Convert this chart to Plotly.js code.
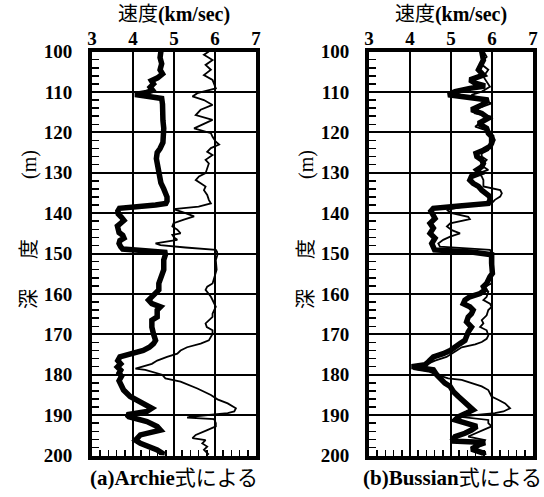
<!DOCTYPE html>
<html><head><meta charset="utf-8">
<script src="https://cdn.plot.ly/plotly-3.0.1.min.js"></script>
<style>html,body{margin:0;padding:0;background:#fff}#chart{width:544px;height:497px}</style>
</head><body><div id="chart"></div>
<script>
// ---- data (depth in m, velocity in km/sec) ----
const archieDepth = [100,101.5,103,104.5,105.5,106.5,107.2,108,108.8,109.6,110.2,110.6,111,111.6,113,115,117,119,121,122.5,
 124,125,126.5,128,129.5,131,132.5,134,135,136,137,137.6,138,138.4,138.8,139.5,140.2,141,141.8,142.5,
 143.2,144,144.8,145.5,146.2,146.8,147.5,148.3,148.9,149.3,149.7,150.3,151.6,154,155.5,157.4,159,159.9,160.7,161.5,
 162.4,163.2,164,165.7,166.5,168.2,169.9,171.5,172.3,173.2,174,174.8,175.6,176.5,177.3,178.1,178.9,179.6,180.4,181.5,
 182.9,183.8,185.4,187.1,188.3,189.1,189.9,190.4,191.6,192.8,193.7,194.9,196.2,197,197.8,198.6,199.4,200];
const archieVel = [4.68,4.66,4.70,4.66,4.72,4.60,4.45,4.50,4.42,4.48,4.30,4.05,4.30,4.70,4.72,4.71,4.73,4.75,4.75,4.73,
 4.66,4.59,4.57,4.60,4.64,4.67,4.68,4.75,4.80,4.83,4.83,4.80,4.55,4.0,3.67,3.63,3.64,3.72,3.78,3.70,
 3.62,3.64,3.66,3.75,3.78,3.68,3.66,3.70,3.75,4.3,4.78,4.79,4.75,4.75,4.71,4.63,4.63,4.55,4.45,4.38,
 4.46,4.67,4.59,4.59,4.46,4.46,4.50,4.55,4.50,4.40,4.25,3.95,3.68,3.63,3.70,3.62,3.70,3.66,3.72,3.66,
 3.72,3.77,3.93,4.22,4.46,4.34,3.85,3.90,4.34,4.59,4.67,4.18,4.06,4.18,4.42,4.59,4.71,4.70];

const measuredADepth = [100,100.8,102.1,103.3,104.5,105.8,107,108.3,109.1,110.3,111.1,112,113.2,114.4,115.7,116.9,118.2,119,120.2,121.1,
 122.3,123,123.9,124.8,125.6,126.8,127.7,128.9,130.1,130.9,131.8,132.6,133.4,134.3,135.5,136.7,137.6,138.4,139,140,
 140.8,141.6,142.5,143.3,144.1,145,145.4,146,146.6,147.5,147.9,148.5,149.1,
 149.6,150.3,151.6,154,157.4,158.2,159,159.9,160.7,161.5,162.4,163.2,164,164.9,165.7,166.5,167.3,168.2,169,169.9,
 171.5,172.3,173.2,174,174.8,175.6,176.5,177.3,178.1,178.5,178.8,180,180.9,181.7,183.4,185,186.1,187.1,188.3,189.1,
 189.5,189.8,190.4,190.6,191,192,192.8,193.7,194.9,195.7,196.2,197,197.8,198.6,199.8];
const measuredAVel = [5.85,5.73,5.94,5.77,5.90,5.73,5.94,5.98,6.02,5.57,5.45,5.73,5.94,5.65,5.53,5.94,5.65,5.49,5.90,5.94,
 6.02,6.10,5.90,5.81,5.94,5.77,5.85,5.81,5.77,5.61,5.53,5.65,5.77,5.73,5.81,5.85,5.90,5.6,4.99,5.28,
 5.49,5.24,4.99,4.96,5.08,5.16,4.96,5.0,5.08,4.55,4.67,5.28,6.02,
 6.05,6.06,6.02,6.04,5.94,5.81,5.77,5.85,5.90,5.94,5.98,6.02,5.98,5.94,5.94,5.85,5.77,5.80,5.94,5.94,
 5.85,5.65,5.32,5.16,5.08,4.83,4.59,4.46,4.22,4.06,4.30,4.71,4.79,5.16,5.57,5.90,6.06,6.31,6.51,6.47,
 6.31,5.98,5.40,5.32,5.98,6.02,6.02,5.81,5.53,5.45,5.77,5.69,5.81,5.73,5.85];

const bussianDepth = [100,102.1,103.7,104.5,105.8,107,107.8,108.5,109.1,109.9,110.7,111.3,112,113.2,114.4,115.3,116.5,117.8,119,120.2,
 121,122.7,123.5,124.4,125.2,126,126.8,127.7,128.5,129.3,130.1,130.9,131.8,132.6,133.4,134.3,135.1,135.9,136.7,137.6,
 138.2,138.8,139.5,140.2,141.3,142.5,143.7,145,146.2,147.5,148.3,149.1,149.6,150.3,152.4,154.9,155.7,157.4,158.2,159,
 159.9,160.7,161.5,162.4,163.2,164,164.9,165.7,166.9,168.2,169.4,170.7,171.5,172.3,173.2,174,174.8,175.6,176.8,177.5,
 178,178.5,178.8,180,181,182.1,182.9,184.2,185.4,186.6,187.9,188.7,189.5,190.4,191.2,192,192.8,193.7,194.5,195.3,
 196.4,196.8,197.4,198.4,199.4,200];
const bussianVel = [5.75,5.79,5.71,5.67,5.79,5.46,5.59,5.83,5.46,5.10,4.93,5.34,5.91,5.75,5.50,5.75,5.91,5.67,5.87,5.91,
 5.99,5.99,5.95,5.79,5.61,5.63,5.75,5.79,5.75,5.63,5.71,5.50,5.46,5.54,5.67,5.75,5.87,5.95,5.95,5.91,
 5.2,4.57,4.51,4.55,4.61,4.49,4.57,4.49,4.61,4.53,4.57,4.60,5.5,5.99,5.99,6.01,5.95,5.87,5.79,5.83,
 5.71,5.46,5.34,5.30,5.46,5.54,5.50,5.42,5.38,5.50,5.42,5.38,5.34,5.22,5.10,4.98,4.81,4.57,4.45,4.37,
 4.04,4.30,4.57,4.65,4.73,4.85,4.98,5.06,5.18,5.30,5.46,5.54,5.38,5.18,5.10,5.34,5.63,5.50,5.34,5.10,
 5.02,5.83,5.67,5.50,5.79,5.80];

const measuredBDepth = [100,101.3,102.9,104.5,106.2,107.4,108.7,109.9,110.7,112,112.8,114,115.3,116.1,117.3,118.6,119.8,121,121.9,122.7,
 123.5,124.4,125.2,126,126.8,127.7,128.5,129.3,130.1,130.9,131.8,132.6,133.4,134.3,135.1,135.9,136.7,137.6,138.4,139.2,
 140,140.9,141.5,142.5,143.3,144.2,145,145.8,146.6,147.5,148.3,149.1,150.3,152.4,155.7,157.4,157.8,158.6,159.4,160.7,
 161.5,162.4,163.2,164,165.3,166.5,167.3,168.2,169,170.3,171.1,171.9,172.5,173.2,174,174.8,175.6,176.5,177.3,178.1,
 178.6,179.2,180,180.9,181.3,182.1,182.9,183.8,185.4,186.2,187.1,188.3,189.1,189.5,190.4,191.2,192,192.8,194.1,195.3,
 196.2,197.4,198.2,199.4,200];
const measuredBVel = [5.80,5.87,5.71,5.91,5.79,5.87,5.95,5.75,5.50,5.75,5.99,5.67,5.59,5.99,5.75,5.59,5.95,6.03,6.07,6.03,
 5.91,5.91,5.75,5.75,5.87,5.79,5.79,5.91,5.67,5.75,5.79,5.79,5.79,6.20,6.24,6.20,6.07,5.99,5.30,4.90,
 5.02,5.42,5.46,4.98,4.90,5.02,5.22,4.98,4.81,4.69,4.73,5.95,6.03,6.03,6.01,5.99,5.91,5.79,5.91,5.87,
 5.79,5.95,5.99,5.91,5.87,5.75,5.79,5.71,5.87,5.91,5.87,5.75,5.59,5.26,5.14,5.02,4.89,4.61,4.45,4.25,
 4.08,4.45,4.65,4.93,5.26,5.50,5.75,5.91,5.99,6.15,6.32,6.44,6.28,6.07,5.18,5.91,5.91,5.99,5.67,5.42,
 5.83,5.75,5.59,5.75,5.78];

const velocityTicks = [3,4,5,6,7];
const depthTicks = [100,110,120,130,140,150,160,170,180,190,200];
const xTitleText = '速度<b>(km/sec)</b>';
const yTitleText = '深\u3000  度\u3000\u3000\u3000(m)';
const captions = ['<b>(a)Archie</b>式による', '<b>(b)Bussian</b>式による'];

// ---- layout helpers ----
const FONT = '"Liberation Serif", "Noto Sans CJK JP", serif';
const W = 544, H = 497;
const px = v => v / W, py = v => 1 - v / H;
const yDom = [py(455.5), py(51.6)];

function bottomX(dom) {
  return {domain: dom, range: [3, 7], tick0: 3, dtick: 1, showticklabels: false,
    ticks: 'inside', ticklen: 7, tickwidth: 1.5, tickcolor: '#000',
    minor: {tick0: 3, dtick: 0.2, ticks: 'inside', ticklen: 6, tickwidth: 1.5, tickcolor: '#000', showgrid: false},
    showgrid: true, gridcolor: '#000', gridwidth: 2, zeroline: false,
    showline: true, linecolor: '#000', linewidth: 4, mirror: true, fixedrange: true};
}
function topX(over, yref) {
  return {overlaying: over, anchor: yref, side: 'top', range: [3, 7], tickvals: velocityTicks,
    ticks: '', showgrid: false, showline: false, zeroline: false, ticklabelstandoff: 2,
    tickfont: {family: FONT, size: 19, color: '#000', weight: 'bold'},
    title: {text: xTitleText, font: {family: FONT, size: 20, color: '#000'}, standoff: 0}};
}
function depthY(xref) {
  return {domain: yDom, anchor: xref, range: [200, 100], tick0: 100, dtick: 10,
    ticks: 'inside', ticklen: 7, tickwidth: 1.5, tickcolor: '#000', ticklabelstandoff: 12,
    minor: {tick0: 100, dtick: 2, ticks: 'inside', ticklen: 7, tickwidth: 1.5, tickcolor: '#000', showgrid: false},
    showgrid: true, gridcolor: '#000', gridwidth: 2, zeroline: false,
    showline: true, linecolor: '#000', linewidth: 4, mirror: true,
    tickfont: {family: FONT, size: 19, color: '#000', weight: 'bold'}, fixedrange: true};
}

const thin = {color: '#000', width: 1.8};
const thick = {color: '#000', width: 5.5};
const traces = [
  {x: measuredAVel, y: measuredADepth, xaxis: 'x', yaxis: 'y', mode: 'lines', line: thin, name: '実測'},
  {x: archieVel, y: archieDepth, xaxis: 'x', yaxis: 'y', mode: 'lines', line: thick, name: 'Archie式'},
  {x: measuredBVel, y: measuredBDepth, xaxis: 'x2', yaxis: 'y2', mode: 'lines', line: thin, name: '実測'},
  {x: bussianVel, y: bussianDepth, xaxis: 'x2', yaxis: 'y2', mode: 'lines', line: thick, name: 'Bussian式'},
  // invisible traces to activate the top label axes
  {x: [3], y: [100], xaxis: 'x3', yaxis: 'y', mode: 'markers', marker: {opacity: 0}, hoverinfo: 'skip'},
  {x: [3], y: [100], xaxis: 'x4', yaxis: 'y2', mode: 'markers', marker: {opacity: 0}, hoverinfo: 'skip'}
];

const layout = {
  width: W, height: H, margin: {l: 0, r: 0, t: 0, b: 0},
  paper_bgcolor: '#fff', plot_bgcolor: '#fff', showlegend: false,
  font: {family: FONT, color: '#000'},
  xaxis: bottomX([px(92), px(256)]),
  xaxis2: bottomX([px(369), px(533)]),
  xaxis3: topX('x', 'y'),
  xaxis4: topX('x2', 'y2'),
  yaxis: depthY('x'),
  yaxis2: depthY('x2'),
  annotations: [
    {text: yTitleText, textangle: -90, xref: 'paper', yref: 'paper', x: px(30), y: py(230), showarrow: false,
     xanchor: 'center', yanchor: 'middle', font: {family: FONT, size: 20, color: '#000'}},
    {text: yTitleText, textangle: -90, xref: 'paper', yref: 'paper', x: px(307), y: py(230), showarrow: false,
     xanchor: 'center', yanchor: 'middle', font: {family: FONT, size: 20, color: '#000'}},
    {text: captions[0], xref: 'paper', yref: 'paper', x: px(174), y: py(478), showarrow: false,
     xanchor: 'center', yanchor: 'middle', font: {family: FONT, size: 21, color: '#000'}},
    {text: captions[1], xref: 'paper', yref: 'paper', x: px(452), y: py(478), showarrow: false,
     xanchor: 'center', yanchor: 'middle', font: {family: FONT, size: 21, color: '#000'}}
  ]
};
Plotly.newPlot('chart', traces, layout, {staticPlot: true, displayModeBar: false});
</script></body></html>
